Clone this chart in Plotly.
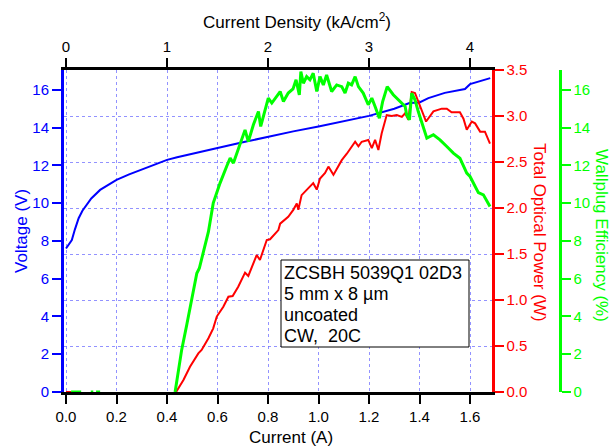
import plotly.graph_objects as go

# ---------------- data ----------------
current_v = [0.0, 0.01, 0.023, 0.035, 0.05, 0.065, 0.082, 0.10, 0.135, 0.17, 0.20, 0.25, 0.30, 0.35,
             0.40, 0.44, 0.50, 0.60, 0.70, 0.80, 0.90, 1.00, 1.10, 1.20, 1.30, 1.36, 1.40, 1.435,
             1.50, 1.58, 1.60, 1.64, 1.68]
voltage = [7.6, 7.8, 8.05, 8.6, 9.2, 9.6, 9.92, 10.25, 10.7, 11.0, 11.23, 11.52, 11.78, 12.04,
           12.29, 12.43, 12.6, 12.92, 13.22, 13.53, 13.8, 14.06, 14.33, 14.62, 15.0, 15.3, 15.33, 15.56,
           15.84, 16.04, 16.3, 16.48, 16.62]

current_p = [0.0, 0.02, None,
             0.436, 0.465, 0.491, 0.524, 0.537, 0.564, 0.583, 0.597, 0.623, 0.643, 0.66, 0.682,
             0.709, 0.722, 0.755, 0.768, 0.795, 0.808, 0.841, 0.848, 0.88, 0.90, 0.914, 0.92,
             0.933, 0.953, 0.979, 0.993, 1.006, 1.026, 1.039, 1.059, 1.078, 1.092, 1.112, 1.131,
             1.145, 1.158, 1.171, 1.197, 1.211, 1.224, 1.237, 1.25, 1.27, 1.29, 1.31, 1.33,
             1.343, 1.356, 1.369, 1.382, 1.402, 1.426, 1.455, 1.488, 1.508, 1.527, 1.56, 1.574,
             1.587, 1.607, 1.62, 1.64, 1.659, 1.679]
power = [0.0, 0.0, None,
         0.0, 0.13, 0.275, 0.42, 0.457, 0.584, 0.692, 0.82, 0.927, 1.036, 1.043, 1.145,
         1.297, 1.261, 1.489, 1.435, 1.652, 1.66, 1.76, 1.83, 1.905, 1.98, 2.05, 1.98,
         2.14, 2.2, 2.27, 2.2, 2.32, 2.38, 2.45, 2.36, 2.45, 2.52, 2.59, 2.67,
         2.72, 2.67, 2.72, 2.74, 2.65, 2.74, 2.63, 2.81, 3.01, 3.0, 3.01, 2.99,
         3.03, 2.96, 3.26, 3.25, 3.1, 2.94, 3.05, 3.08, 3.08, 3.04, 3.04, 2.97,
         2.85, 2.94, 2.92, 2.83, 2.83, 2.70]

current_e = [0.02, 0.06, None, 0.098, 0.108, None, 0.119, 0.135, None,
             0.432, 0.458, 0.478, 0.498, 0.518, 0.528, 0.544, 0.564, 0.583, 0.61, 0.636, 0.65,
             0.663, 0.689, 0.709, 0.722, 0.742, 0.762, 0.771, 0.801, 0.815, 0.848, 0.861, 0.88,
             0.899, 0.911, 0.924, 0.93, 0.94, 0.953, 0.966, 0.979, 0.993, 1.006, 1.019, 1.032,
             1.052, 1.072, 1.092, 1.105, 1.118, 1.131, 1.145, 1.158, 1.177, 1.197, 1.211, 1.224,
             1.241, 1.254, 1.272, 1.296, 1.323, 1.343, 1.349, 1.36, 1.369, 1.382, 1.395, 1.415,
             1.429, 1.455, 1.481, 1.508, 1.534, 1.56, 1.587, 1.6, 1.633, 1.653, 1.679]
efficiency = [0.0, 0.0, None, 0.0, 0.0, None, 0.0, 0.0, None,
              0.0, 2.23, 3.55, 4.87, 6.29, 6.55, 7.35, 8.49, 10.0, 11.06, 11.94, 12.38,
              12.12, 13.18, 13.88, 13.26, 14.15, 14.85, 14.06, 15.56, 15.3, 15.91, 15.38, 15.83,
              16.05, 16.53, 15.73, 16.97, 16.35, 16.7, 16.53, 16.88, 15.91, 16.7, 16.26, 16.79,
              15.91, 16.26, 16.17, 15.83, 16.35, 16.26, 16.7, 16.17, 15.83, 15.21, 15.56, 15.12,
              14.5, 15.38, 16.17, 15.74, 15.38, 15.12, 14.68, 14.41, 15.82, 15.47, 14.85, 14.06,
              13.44, 13.62, 13.35, 13.0, 12.65, 12.38, 11.59, 11.41, 10.56, 10.44, 9.82]

x_range = [-0.008, 1.687]
density_per_amp = 2.5  # kA/cm^2 per A (5 mm x 8 um)
density_range = [v * density_per_amp for v in x_range]

info_lines = ["ZCSBH 5039Q1 02D3", "5 mm x 8 µm", "uncoated", "CW,  20C"]

BLUE = "#0000ff"
RED = "#ff0000"
GREEN = "#00ff00"
GRID = "rgba(110,110,255,0.75)"
FONT = "Liberation Sans, Arial, sans-serif"
TICKF = 15
TITLEF = 17

fig = go.Figure()
fig.add_trace(go.Scatter(x=current_v, y=voltage, mode="lines",
                         line=dict(color=BLUE, width=2), xaxis="x", yaxis="y"))
fig.add_trace(go.Scatter(x=current_p, y=power, mode="lines",
                         line=dict(color=RED, width=2), xaxis="x", yaxis="y2"))
fig.add_trace(go.Scatter(x=current_e, y=efficiency, mode="lines",
                         line=dict(color=GREEN, width=3), xaxis="x", yaxis="y3"))
# invisible trace to activate the top (current density) axis
fig.add_trace(go.Scatter(x=[density_range[0]], y=[None], mode="lines",
                         xaxis="x2", yaxis="y", hoverinfo="skip"))

dom_right = 428 / 508

fig.update_layout(
    width=612, height=448, autosize=False,
    margin=dict(l=64, r=40, t=70, b=56),
    paper_bgcolor="white", plot_bgcolor="white",
    showlegend=False,
    font=dict(family=FONT, size=TICKF, color="black"),
    xaxis=dict(domain=[0, dom_right], range=x_range, anchor="y",
               tickmode="linear", tick0=0, dtick=0.2, tickformat=".1f",
               ticks="outside", ticklen=9, tickwidth=2, tickcolor="black",
               showline=True, linecolor="black", linewidth=3,
               showgrid=True, gridcolor=GRID, griddash="dot", gridwidth=1,
               zeroline=False, tickfont=dict(size=TICKF, color="black")),
    xaxis2=dict(overlaying="x", side="top", anchor="y", range=density_range,
                tickmode="linear", tick0=0, dtick=1,
                ticks="outside", ticklen=9, tickwidth=2, tickcolor="black",
                showline=True, linecolor="black", linewidth=3,
                showgrid=False, zeroline=False, tickfont=dict(size=TICKF, color="black")),
    yaxis=dict(range=[0, 17.05], anchor="x", tickmode="linear", tick0=0, dtick=2,
               ticks="outside", ticklen=9, tickwidth=2, tickcolor=BLUE,
               showline=True, linecolor=BLUE, linewidth=3,
               showgrid=False, zeroline=False, tickfont=dict(size=TICKF, color=BLUE)),
    yaxis2=dict(range=[0, 3.5], overlaying="y", side="right", anchor="x",
                tickmode="linear", tick0=0, dtick=0.5, tickformat=".1f",
                ticks="outside", ticklen=9, tickwidth=2, tickcolor=RED,
                showline=True, linecolor=RED, linewidth=2.5,
                showgrid=True, gridcolor=GRID, griddash="dot", gridwidth=1,
                zeroline=False, tickfont=dict(size=TICKF, color=RED)),
    yaxis3=dict(range=[0, 17.05], overlaying="y", side="right", anchor="free",
                position=(560 - 64) / 508,
                tickmode="linear", tick0=0, dtick=2,
                ticks="outside", ticklen=9, tickwidth=2, tickcolor=GREEN,
                showline=True, linecolor=GREEN, linewidth=2.5,
                showgrid=False, zeroline=False, tickfont=dict(size=TICKF, color=GREEN)),
)

def px_x(p):
    return (p - 64) / 508

def px_y(p):
    return (392 - p) / 322

annotations = [
    dict(text="Current (A)", x=px_x(291), y=px_y(437), textangle=0,
         font=dict(size=TITLEF, color="black")),
    dict(text="Current Density (kA/cm<sup>2</sup>)", x=px_x(297), y=px_y(21), textangle=0,
         font=dict(size=TITLEF, color="black")),
    dict(text="Voltage (V)", x=px_x(21), y=px_y(231), textangle=-90,
         font=dict(size=TITLEF, color=BLUE)),
    dict(text="Total Optical Power (W)", x=px_x(539), y=px_y(232), textangle=90,
         font=dict(size=TITLEF, color=RED)),
    dict(text="Wallplug Efficiency (%)", x=px_x(602), y=px_y(235), textangle=90,
         font=dict(size=TITLEF, color=GREEN)),
]
for a in annotations:
    a.update(xref="paper", yref="paper", showarrow=False, xanchor="center", yanchor="middle")
    fig.add_annotation(**a)

fig.add_shape(type="rect", xref="paper", yref="paper",
              x0=px_x(281), x1=px_x(469), y0=px_y(347), y1=px_y(260),
              line=dict(color="black", width=1), fillcolor="white", layer="above")
for i, line in enumerate(info_lines):
    fig.add_annotation(text=line, xref="paper", yref="paper",
                       x=px_x(282), y=px_y(272.5 + 21.2 * i),
                       xanchor="left", yanchor="middle", showarrow=False,
                       font=dict(size=18, color="black"))

fig.write_html("out.html", config={"displayModeBar": False, "staticPlot": True})

# remove the browser's default page margin so the figure sits at the window origin
with open("out.html", "r", encoding="utf-8") as f:
    html = f.read()
html = html.replace("<head>", "<head><style>html,body{margin:0;padding:0;overflow:hidden;}</style>", 1)
with open("out.html", "w", encoding="utf-8") as f:
    f.write(html)
